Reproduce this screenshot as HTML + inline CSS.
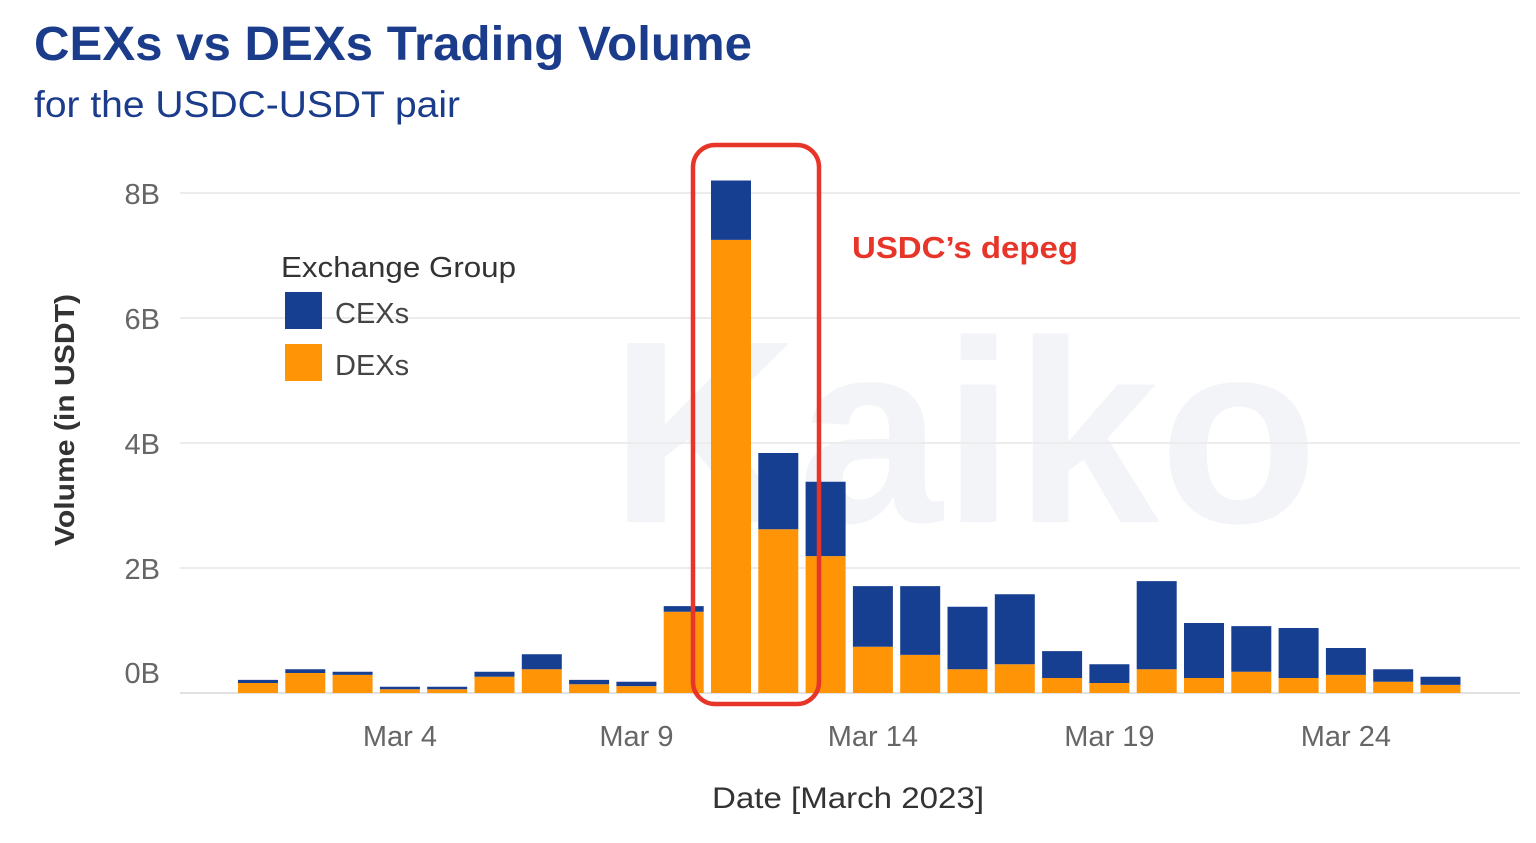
<!DOCTYPE html>
<html><head><meta charset="utf-8"><style>
body{margin:0;width:1536px;height:838px;background:#fff;overflow:hidden;font-family:"Liberation Sans",sans-serif;}
</style></head><body>
<svg width="1536" height="838">
<text x="34" y="60" font-size="48" font-weight="bold" fill="#1b3b8b" textLength="718" lengthAdjust="spacingAndGlyphs">CEXs vs DEXs Trading Volume</text>
<text x="34" y="117" font-size="37" fill="#1b3b8b" textLength="426" lengthAdjust="spacingAndGlyphs">for the USDC-USDT pair</text>
<text x="610" y="522" font-size="260" font-weight="bold" fill="#f3f4f7">Kaiko</text>
<g id="grid"></g>
<g id="bars"></g>
<g id="xt"></g>
<text transform="translate(74,420) rotate(-90)" text-anchor="middle" font-size="28" font-weight="bold" fill="#333" textLength="252" lengthAdjust="spacingAndGlyphs">Volume (in USDT)</text>
<text x="848" y="808" text-anchor="middle" font-size="30" fill="#333" textLength="272" lengthAdjust="spacingAndGlyphs">Date [March 2023]</text>
<text x="281" y="277" font-size="29" fill="#333" textLength="235" lengthAdjust="spacingAndGlyphs">Exchange Group</text>
<rect x="285" y="292" width="37" height="37" fill="#173f91"/>
<text x="335" y="323" font-size="29" fill="#444">CEXs</text>
<rect x="285" y="344" width="37" height="37" fill="#ff9506"/>
<text x="335" y="375" font-size="29" fill="#444">DEXs</text>
<rect x="693" y="145" width="126" height="559" rx="22" fill="none" stroke="#e8352a" stroke-width="4.5"/>
<text x="852" y="258" font-size="31" font-weight="bold" fill="#e8352a" textLength="226" lengthAdjust="spacingAndGlyphs">USDC’s depeg</text>
</svg>
<script>
const days=[1,2,3,4,5,6,7,8,9,10,11,12,13,14,15,16,17,18,19,20,21,22,23,24,25,26];
const dex=[0.16,0.32,0.29,0.06,0.06,0.26,0.38,0.14,0.11,1.3,7.25,2.62,2.19,0.74,0.61,0.38,0.46,0.24,0.16,0.38,0.24,0.34,0.24,0.29,0.18,0.13];
const cex=[0.05,0.06,0.05,0.04,0.04,0.08,0.24,0.07,0.07,0.09,0.95,1.22,1.19,0.97,1.1,1.0,1.12,0.43,0.3,1.41,0.88,0.73,0.8,0.43,0.2,0.13];
const yTicks=[0,2,4,6,8];
const xTickDays=[4,9,14,19,24];
const NS="http://www.w3.org/2000/svg";
const y0=693,pxB=62.5,x1=258,step=47.3,bw=40;
const yS=v=>y0-v*pxB, xS=d=>x1+(d-1)*step;
function mk(t,a,p){const e=document.createElementNS(NS,t);for(const k in a)e.setAttribute(k,a[k]);p.appendChild(e);return e;}
const g=document.getElementById('grid');
yTicks.forEach(v=>{
 const l=mk('line',{x1:180,x2:1520,y1:yS(v),y2:yS(v),stroke:v?'#ececec':'#e2e2e2','stroke-width':2},g);
 
 
 const t=mk('text',{x:160,y:v?yS(v)+11:yS(v)-10,'text-anchor':'end','font-size':29,fill:'#666'},g);
 t.textContent=v+'B';
 
 
});
const b=document.getElementById('bars');
days.forEach((d,i)=>{
 const x=xS(d)-bw/2;
 const r1=mk('rect',{x:x,y:yS(dex[i]),width:bw,height:dex[i]*pxB,fill:'#ff9506'},b);
 
 
 const r2=mk('rect',{x:x,y:yS(dex[i]+cex[i]),width:bw,height:cex[i]*pxB,fill:'#173f91'},b);
 
 
});
const xt=document.getElementById('xt');
xTickDays.forEach(d=>{
 const t=mk('text',{x:xS(d),y:746,'text-anchor':'middle','font-size':29,fill:'#666'},xt);
 t.textContent='Mar '+d;
 
 
});
</script>
</body></html>
